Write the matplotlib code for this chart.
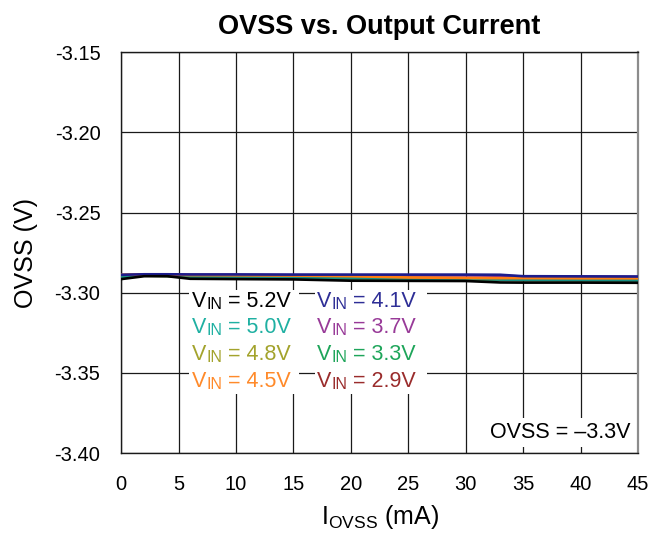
import numpy as np
import matplotlib
matplotlib.use("Agg")
import matplotlib.pyplot as plt
from matplotlib.patches import Rectangle

plt.rcParams["font.family"] = ["Liberation Sans", "DejaVu Sans"]

''' Data (read off the reference) '''
i_ovss = [0, 2, 4, 6, 10, 15, 20, 25, 30, 33, 35, 40, 45]

ovss_52 = [-3.2915, -3.2897, -3.2897, -3.2913, -3.2915, -3.2917, -3.2925, -3.2926, -3.2927, -3.2936, -3.2937, -3.2937, -3.2938]
ovss_50 = [-3.2903, -3.2893, -3.2895, -3.2903, -3.2905, -3.2907, -3.2910, -3.2912, -3.2915, -3.2918, -3.2921, -3.2922, -3.2924]
ovss_48 = [-3.2905, -3.2893, -3.2896, -3.2905, -3.2908, -3.2910, -3.2913, -3.2915, -3.2917, -3.2920, -3.2922, -3.2923, -3.2925]
ovss_45 = [-3.2888, -3.2886, -3.2887, -3.2890, -3.2891, -3.2893, -3.2897, -3.2905, -3.2908, -3.2909, -3.2909, -3.2910, -3.2910]
ovss_41 = [-3.2888, -3.2885, -3.2885, -3.2886, -3.2886, -3.2887, -3.2887, -3.2887, -3.2887, -3.2888, -3.2897, -3.2898, -3.2899]
ovss_37 = [-3.2890, -3.2887, -3.2887, -3.2889, -3.2889, -3.2890, -3.2891, -3.2891, -3.2892, -3.2894, -3.2899, -3.2900, -3.2901]
ovss_33 = [-3.2900, -3.2890, -3.2892, -3.2900, -3.2903, -3.2905, -3.2908, -3.2910, -3.2913, -3.2916, -3.2918, -3.2920, -3.2921]
ovss_29 = [-3.2895, -3.2889, -3.2890, -3.2896, -3.2898, -3.2900, -3.2903, -3.2906, -3.2909, -3.2912, -3.2914, -3.2915, -3.2916]

vin_labels = ["5.2V", "5.0V", "4.8V", "4.5V", "4.1V", "3.7V", "3.3V", "2.9V"]
series = [ovss_52, ovss_50, ovss_48, ovss_45, ovss_41, ovss_37, ovss_33, ovss_29]
colors = ["#000000", "#1fb0a2", "#a3a32c", "#ff8a2a", "#2e2e96", "#983a98", "#1ea55a", "#9a2c2c"]
line_colors = ["#000000", "#168f84", "#8c8c20", "#ff7f10", "#1c1c8c", "#8a2a8a", "#179a4c", "#8a2020"]

x_ticks = np.arange(0, 46, 5)
y_ticks = [-3.40, -3.35, -3.30, -3.25, -3.20, -3.15]

''' Plot '''
fig = plt.figure(figsize=(6.66, 5.33), dpi=100)
ax = fig.add_subplot(111)
fig.subplots_adjust(left=0.182, right=0.958, bottom=0.150, top=0.902)

draw_order = [7, 6, 5, 2, 1, 3, 4, 0]
for k in draw_order:
    ax.plot(i_ovss, series[k], color=line_colors[k], linewidth=1.9, zorder=4)

ax.set_xlim(0, 45)
ax.set_ylim(-3.40, -3.15)
ax.set_xticks(x_ticks)
ax.set_yticks(y_ticks)
ax.set_yticklabels([f"{v:.2f}" for v in y_ticks])
ax.tick_params(axis="both", length=0, labelsize=14.5)
ax.tick_params(axis="x", pad=16)
ax.tick_params(axis="y", pad=15)
ax.grid(True, color="#1a1a1a", linewidth=0.9)
ax.set_axisbelow(True)

for side in ["left", "bottom", "top"]:
    ax.spines[side].set_color("#1a1a1a")
    ax.spines[side].set_linewidth(1.0)
ax.spines["right"].set_color("#8c8c8c")
ax.spines["right"].set_linewidth(1.6)

ax.set_title("OVSS vs. Output Current", fontsize=19.5, fontweight="bold", pad=13)
ax.set_ylabel("OVSS (V)", fontsize=18, labelpad=12)
ax.set_xlabel(r"I$_\mathregular{OVSS}$ (mA)", fontsize=18, labelpad=6)

''' Legend made of text entries on white boxes '''
for x0, x1 in [(0.131, 0.344), (0.375, 0.592)]:
    ax.add_patch(Rectangle((x0, 0.147), x1 - x0, 0.259, transform=ax.transAxes,
                           facecolor="white", edgecolor="none", zorder=2))

col_x = [0.137, 0.379]
row_y = [0.353, 0.286, 0.219, 0.152]
for k, lab in enumerate(vin_labels):
    cx = col_x[k // 4]
    ry = row_y[k % 4]
    c = colors[k]
    t1 = ax.text(cx, ry, "V", transform=ax.transAxes, fontsize=15.5, color=c,
                 ha="left", va="bottom", zorder=5)
    t2 = ax.annotate("IN", xy=(1, 0), xycoords=t1, fontsize=11.5, color=c,
                     ha="left", va="bottom", zorder=5)
    ax.annotate(" = " + lab, xy=(1, 0), xycoords=t2, fontsize=15.5, color=c,
                ha="left", va="bottom", zorder=5)

ax.text(0.985, 0.052, "OVSS = \u20133.3V", transform=ax.transAxes, fontsize=15.5,
        ha="right", va="center", zorder=5,
        bbox=dict(facecolor="white", edgecolor="none", pad=3))

plt.savefig("out.png", dpi=100)
